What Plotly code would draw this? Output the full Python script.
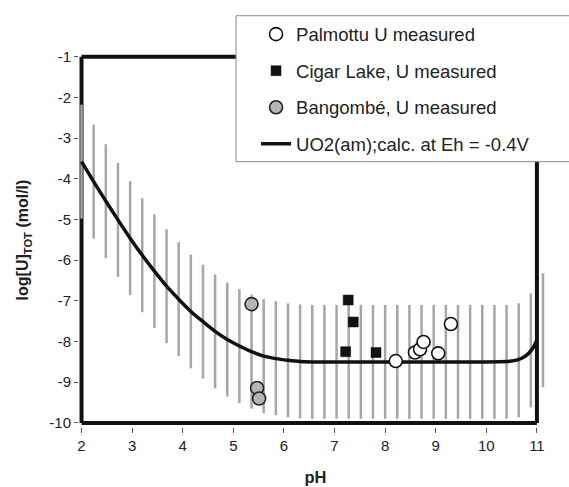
import plotly.graph_objects as go

# ---- data ----
bar_ph = [2.00, 2.24, 2.48, 2.72, 2.96, 3.20, 3.44, 3.68, 3.92, 4.16, 4.40, 4.64, 4.88,
          5.12, 5.36, 5.60, 5.84, 6.08, 6.32, 6.56, 6.80, 7.04, 7.28, 7.52, 7.76, 8.00,
          8.24, 8.48, 8.72, 8.96, 9.20, 9.44, 9.68, 9.92, 10.16, 10.40, 10.64, 10.88, 11.12]
bar_center = [-3.58, -4.07, -4.55, -5.01, -5.46, -5.88, -6.27, -6.64, -6.96, -7.26, -7.51,
              -7.75, -7.95, -8.11, -8.25, -8.36, -8.41, -8.46, -8.49, -8.50, -8.50, -8.50,
              -8.50, -8.50, -8.50, -8.50, -8.50, -8.50, -8.50, -8.50, -8.50, -8.50, -8.50,
              -8.50, -8.50, -8.50, -8.46, -8.22, -7.72]
bar_half = 1.4

curve_ph = [2.00, 2.24, 2.48, 2.72, 2.96, 3.20, 3.44, 3.68, 3.92, 4.16, 4.40, 4.64, 4.88,
            5.12, 5.36, 5.60, 5.84, 6.08, 6.32, 6.56, 7.00, 8.00, 9.00, 10.00, 10.40,
            10.55, 10.70, 10.82, 10.92, 11.00]
curve_logU = [-3.58, -4.07, -4.55, -5.01, -5.46, -5.88, -6.27, -6.64, -6.96, -7.26, -7.51,
              -7.75, -7.95, -8.11, -8.25, -8.36, -8.42, -8.46, -8.49, -8.50, -8.50, -8.50,
              -8.50, -8.50, -8.49, -8.47, -8.41, -8.31, -8.16, -7.96]

palmottu_ph = [8.21, 8.59, 8.69, 8.76, 9.05, 9.30]
palmottu_logU = [-8.48, -8.27, -8.19, -8.01, -8.29, -7.57]

cigar_ph = [7.27, 7.37, 7.22, 7.82]
cigar_logU = [-6.98, -7.52, -8.25, -8.27]

bangombe_ph = [5.36, 5.47, 5.51]
bangombe_logU = [-7.08, -9.14, -9.40]

x_ticks = [2, 3, 4, 5, 6, 7, 8, 9, 10, 11]
y_ticks = [-1, -2, -3, -4, -5, -6, -7, -8, -9, -10]

FONT = "Liberation Sans, Arial, sans-serif"

fig = go.Figure()

# uncertainty bars
fig.add_trace(go.Scatter(
    x=bar_ph, y=bar_center, mode="markers",
    marker=dict(size=1, opacity=0),
    error_y=dict(type="constant", value=bar_half, color="#a6a6a6", thickness=2.5, width=0),
    showlegend=False, hoverinfo="skip"))

# calculated curve
fig.add_trace(go.Scatter(
    x=curve_ph, y=curve_logU, mode="lines", line=dict(color="#111111", width=3.5, shape="spline", smoothing=0.6),
    name="UO2(am);calc. at Eh = -0.4V", legendgroup="d", legendrank=4))

fig.add_trace(go.Scatter(
    x=palmottu_ph, y=palmottu_logU, mode="markers",
    marker=dict(symbol="circle", size=13, color="white", line=dict(color="#111111", width=1.6)),
    name="Palmottu U measured", legendgroup="a", legendrank=1))

fig.add_trace(go.Scatter(
    x=cigar_ph, y=cigar_logU, mode="markers",
    marker=dict(symbol="square", size=10, color="#111111", line=dict(color="#111111", width=0.5)),
    name="Cigar Lake, U measured", legendgroup="b", legendrank=2))

fig.add_trace(go.Scatter(
    x=bangombe_ph, y=bangombe_logU, mode="markers",
    marker=dict(symbol="circle", size=13, color="#b5b5b5", line=dict(color="#222222", width=1.6)),
    name="Bangombé, U measured", legendgroup="c", legendrank=3))

# frame
frame = dict(type="line", xref="x", yref="y", line=dict(color="#111111", width=4), layer="below")
fig.add_shape(x0=2, x1=2, y0=-10, y1=-1, **frame)
fig.add_shape(x0=2, x1=11, y0=-10, y1=-10, **frame)
fig.add_shape(x0=2, x1=11, y0=-1, y1=-1, **frame)
fig.add_shape(x0=11, x1=11, y0=-10, y1=-1, **frame)

# legend box (extends past the right edge like the reference)
fig.add_shape(type="rect", xref="paper", yref="paper", x0=0.332, x1=1.06, y0=0.7094, y1=1.0997,
              fillcolor="white", line=dict(color="#8a8a8a", width=1), layer="above")

fig.update_layout(
    width=569, height=487,
    margin=dict(l=79, r=17, t=53, b=60, autoexpand=False),
    paper_bgcolor="white", plot_bgcolor="white",
    font=dict(family=FONT, size=15, color="#222222"),
    showlegend=True,
    legend=dict(
        x=0.332, y=1.100, xanchor="left", yanchor="top",
        bgcolor="rgba(0,0,0,0)", borderwidth=0,
        font=dict(family=FONT, size=18.5, color="#222222"),
        traceorder="grouped", tracegroupgap=9.5, indentation=20,
    ),
    xaxis=dict(
        range=[1.95, 11.298], tickvals=x_ticks, ticktext=[str(v) for v in x_ticks],
        showgrid=False, zeroline=False, showline=False,
        ticks="outside", ticklen=5, tickcolor="#555555", tickwidth=1,
        tickfont=dict(size=15, color="#222222"),
        title=dict(text="<b>pH</b>", font=dict(size=16.5, color="#222222"), standoff=18),
    ),
    yaxis=dict(
        range=[-10.1, -0.91], tickvals=y_ticks, ticktext=[str(v) for v in y_ticks],
        showgrid=False, zeroline=False, showline=False,
        ticks="outside", ticklen=4, tickcolor="#555555", tickwidth=1,
        tickfont=dict(size=15, color="#222222"),
        title=dict(text="<b>log[U]<sub>TOT</sub> (mol/l)</b>", font=dict(size=16, color="#222222"), standoff=16),
    ),
)

fig.write_html("out.html")
